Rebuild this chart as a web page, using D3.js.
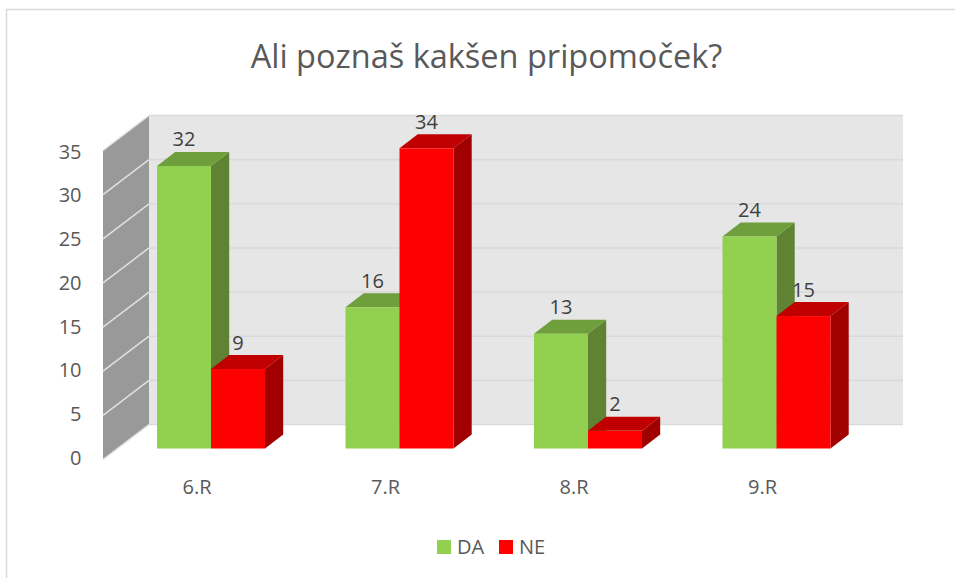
<!DOCTYPE html>
<html><head><meta charset="utf-8">
<script src="https://cdnjs.cloudflare.com/ajax/libs/d3/7.8.5/d3.min.js"></script>
<style>html,body{margin:0;padding:0;background:#fff}svg{display:block}text{font-family:"Open Sans",sans-serif}</style>
</head><body><svg id="c" width="955" height="578"></svg>
<script>
const categories = ["6.R","7.R","8.R","9.R"];
const seriesNames = ["DA","NE"];
const daValues = [32,16,13,24];
const neValues = [9,34,2,15];
const yTicks = [0,5,10,15,20,25,30,35];
const titleText = "Ali poznaš kakšen pripomoček?";

const colors = {DA:{front:"#92d050",top:"#6f9e3c",side:"#5f8233"},NE:{front:"#ff0000",top:"#c00000",side:"#a00000"}};
const svg = d3.select("#c");
const depth = {x:18.2,y:-14};

const x = d3.scaleBand().domain(categories).range([116.75,870.75]).paddingInner(0.427).paddingOuter(0.2135);
const xs = d3.scaleBand().domain(seriesNames).range([0,x.bandwidth()]);
const yBar = d3.scaleLinear().domain([0,35]).range([448.5,139.5]);
const yBack = d3.scaleLinear().domain([0,35]).range([424.5,115.5]);
const yWall = d3.scaleLinear().domain([0,35]).range([459.5,150.5]);
const yLabel = d3.scaleLinear().domain([0,35]).range([457.5,151.5]);

// chart frame
svg.append("path").attr("d","M6.5,578V9.5H955").attr("fill","none").attr("stroke","#d9d9d9").attr("stroke-width",1.5);

// title
svg.append("text").attr("x",486.5).attr("y",68).attr("text-anchor","middle").attr("font-size",32.5).attr("fill","#595959").text(titleText);

// back wall
svg.append("rect").attr("x",149).attr("y",yBack(35)).attr("width",754).attr("height",yBack(0)-yBack(35)).attr("fill","#e6e6e6");
svg.selectAll(".gb").data(yTicks).join("line").attr("x1",149).attr("x2",903).attr("y1",d=>yBack(d)).attr("y2",d=>yBack(d)).attr("stroke","#d9d9d9").attr("stroke-width",1.6);

// side wall
svg.append("path").attr("d",`M103,${yWall(35)}L149,${yBack(35)}V${yBack(0)}L103,${yWall(0)}Z`).attr("fill","#999999");
svg.selectAll(".gs").data(yTicks).join("line").attr("x1",103).attr("x2",149).attr("y1",d=>yWall(d)).attr("y2",d=>yBack(d)).attr("stroke","#e0e0e0").attr("stroke-width",1.5);

// y labels
svg.selectAll(".yl").data(yTicks).join("text").attr("x",81.5).attr("y",d=>yLabel(d)).attr("dy","0.36em").attr("text-anchor","end").attr("font-size",20).attr("fill","#595959").text(d=>d);

// bars
const rows = [];
categories.forEach((c,i)=>{rows.push({c,s:"DA",v:daValues[i]});rows.push({c,s:"NE",v:neValues[i]});});
const w = xs.bandwidth();
const bars = svg.selectAll(".bar").data(rows).join("g").attr("class","bar");
const X = d=>x(d.c)+xs(d.s);
bars.append("path").attr("fill",d=>colors[d.s].side).attr("d",d=>{
  const r=X(d)+w,t=yBar(d.v),b=yBar(0);
  return `M${r},${t}L${r+depth.x},${t+depth.y}V${b+depth.y}L${r},${b}Z`;});
bars.append("path").attr("fill",d=>colors[d.s].top).attr("d",d=>{
  const l=X(d),t=yBar(d.v);
  return `M${l},${t}L${l+depth.x},${t+depth.y}H${l+w+depth.x}L${l+w},${t}Z`;});
bars.append("rect").attr("x",X).attr("y",d=>yBar(d.v)).attr("width",w).attr("height",d=>yBar(0)-yBar(d.v)).attr("fill",d=>colors[d.s].front);

// data labels
svg.selectAll(".dl").data(rows).join("text").attr("x",d=>X(d)+w/2).attr("y",d=>yBar(d.v)+depth.y-5.5).attr("text-anchor","middle").attr("font-size",20).attr("fill","#404040").text(d=>d.v);

// x labels
svg.selectAll(".xl").data(categories).join("text").attr("x",d=>x(d)+x.bandwidth()/2-14).attr("y",494).attr("text-anchor","middle").attr("font-size",20).attr("fill","#595959").text(d=>d);

// legend
const legendX = {DA:437,NE:499};
seriesNames.forEach(s=>{
  svg.append("rect").attr("x",legendX[s]).attr("y",540).attr("width",14).attr("height",14).attr("fill",colors[s].front);
  svg.append("text").attr("x",legendX[s]+20).attr("y",553.5).attr("font-size",20).attr("fill","#595959").text(s);
});
</script></body></html>
